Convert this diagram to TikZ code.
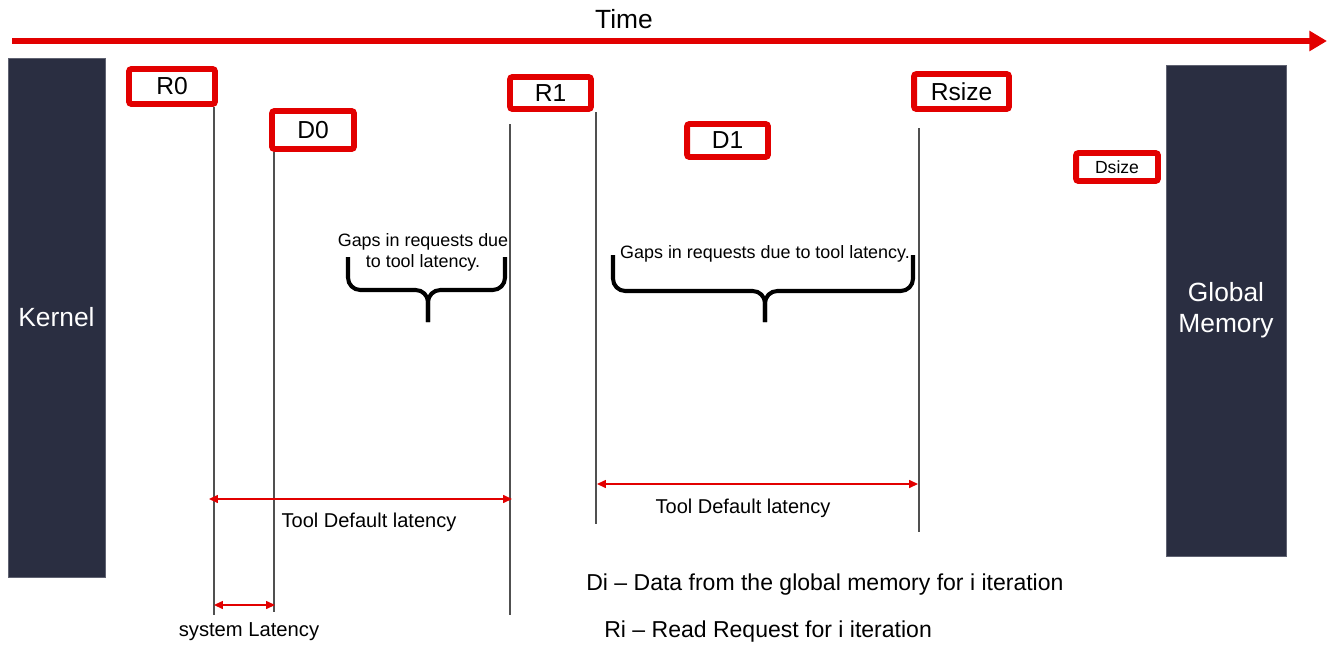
\documentclass[tikz,border=0pt]{standalone}
\usepackage{fontspec}
\setmainfont{Liberation Sans}
\usetikzlibrary{arrows.meta,positioning}
\definecolor{timered}{RGB}{226,0,0}
\definecolor{blocknavy}{RGB}{42,46,65}
\definecolor{lifegray}{RGB}{80,80,80}

\begin{document}
\begin{tikzpicture}[x=0.02cm,y=-0.02cm,
   blk/.style={fill=blocknavy,draw=blocknavy!75!white,line width=0.5pt,text=white,
               font=\fontsize{15}{17.5}\selectfont,align=center,inner sep=0pt},
   req/.style={draw=timered,line width=3.4pt,rounded corners=1.5pt,fill=white,
               font=\fontsize{14}{16}\selectfont,inner sep=0pt},
   life/.style={draw=lifegray,line width=0.6pt},
   span/.style={draw=timered,line width=0.7pt,
                {Triangle[length=5pt,width=4.5pt]}-{Triangle[length=5pt,width=4.5pt]}},
   lbl/.style={font=\fontsize{11.4}{14}\selectfont,inner sep=0pt},
   gap/.style={draw=black,line width=2.3pt,rounded corners=7pt},
   note/.style={font=\fontsize{10.2}{12}\selectfont,align=center,inner sep=0pt}]
  \useasboundingbox (0,0) rectangle (1333,646);

  % time axis
  \coordinate (tstart) at (12,41);
  \coordinate (tend) at (1327,41);
  \draw[timered,line width=3.4pt,-{Triangle[length=10pt,width=11pt]}] (tstart) -- (tend);
  \node[font=\fontsize{15}{18}\selectfont] (time) at (624,19) {Time};

  % kernel and memory blocks
  \node[blk,minimum width=1.94cm,minimum height=10.38cm] (kernel) at (56.5,317.5) {Kernel};
  \node[blk,minimum width=2.4cm,minimum height=9.82cm] (gmem) at (1226,310.5) {Global\\Memory};

  % requests and data
  \node[req,minimum width=1.72cm,minimum height=0.70cm] (R0) at (172,86.5) {R0};
  \node[req,minimum width=1.64cm,minimum height=0.76cm] (D0) at (313,130) {D0};
  \node[req,minimum width=1.62cm,minimum height=0.64cm] (R1) at (550.5,93) {R1};
  \node[req,minimum width=1.62cm,minimum height=0.66cm] (D1) at (727.5,140.5) {D1};
  \node[req,minimum width=1.90cm,minimum height=0.70cm] (Rsize) at (961.5,91.5) {Rsize};
  \node[req,minimum width=1.64cm,minimum height=0.56cm,
        font=\fontsize{10}{12}\selectfont] (Dsize) at (1117,167) {Dsize};

  % life lines
  \coordinate (r0top) at (214,107);   \coordinate (r0bot) at (214,615);
  \coordinate (d0top) at (274,152);   \coordinate (d0bot) at (274,612);
  \coordinate (r1ltop) at (510,124);  \coordinate (r1lbot) at (510,615);
  \coordinate (r1rtop) at (596,112);  \coordinate (r1rbot) at (596,524);
  \coordinate (rstop) at (919,128);   \coordinate (rsbot) at (919,532);
  \draw[life] (r0top) -- (r0bot);
  \draw[life] (d0top) -- (d0bot);
  \draw[life] (r1ltop) -- (r1lbot);
  \draw[life] (r1rtop) -- (r1rbot);
  \draw[life] (rstop) -- (rsbot);

  % gaps
  \draw[gap] (348,257) -- (348,290) -- (428,290) -- (428,322);
  \draw[gap] (505,257) -- (505,290) -- (428,290) -- (428,322);
  \node[note] (gap1) at (423,252) {Gaps in requests due\\to tool latency.};
  \draw[gap] (613,255) -- (613,291) -- (765,291) -- (765,322);
  \draw[gap] (913,255) -- (913,291) -- (765,291) -- (765,322);
  \node[note] (gap2) at (765,254) {Gaps in requests due to tool latency.};

  % latencies
  \coordinate (tdl1a) at (209,499);  \coordinate (tdl1b) at (512,499);
  \draw[span] (tdl1a) -- (tdl1b);
  \node[lbl] (tdl1) at (369,522) {Tool Default latency};
  \coordinate (tdl2a) at (597,484);  \coordinate (tdl2b) at (918,484);
  \draw[span] (tdl2a) -- (tdl2b);
  \node[lbl] (tdl2) at (743,508) {Tool Default latency};
  \coordinate (sysa) at (214,605);   \coordinate (sysb) at (275,605);
  \draw[span] (sysa) -- (sysb);
  \node[lbl,font=\fontsize{11.5}{14}\selectfont] (syslat) at (249,632) {system Latency};

  % legend
  \node[anchor=base west,inner sep=0pt,font=\fontsize{13.1}{16}\selectfont] (legD) at (586,590)
       {Di – Data from the global memory for i iteration};
  \node[anchor=base west,inner sep=0pt,font=\fontsize{13.1}{16}\selectfont] (legR) at (604,637)
       {Ri – Read Request for i iteration};
\end{tikzpicture}
\end{document}
